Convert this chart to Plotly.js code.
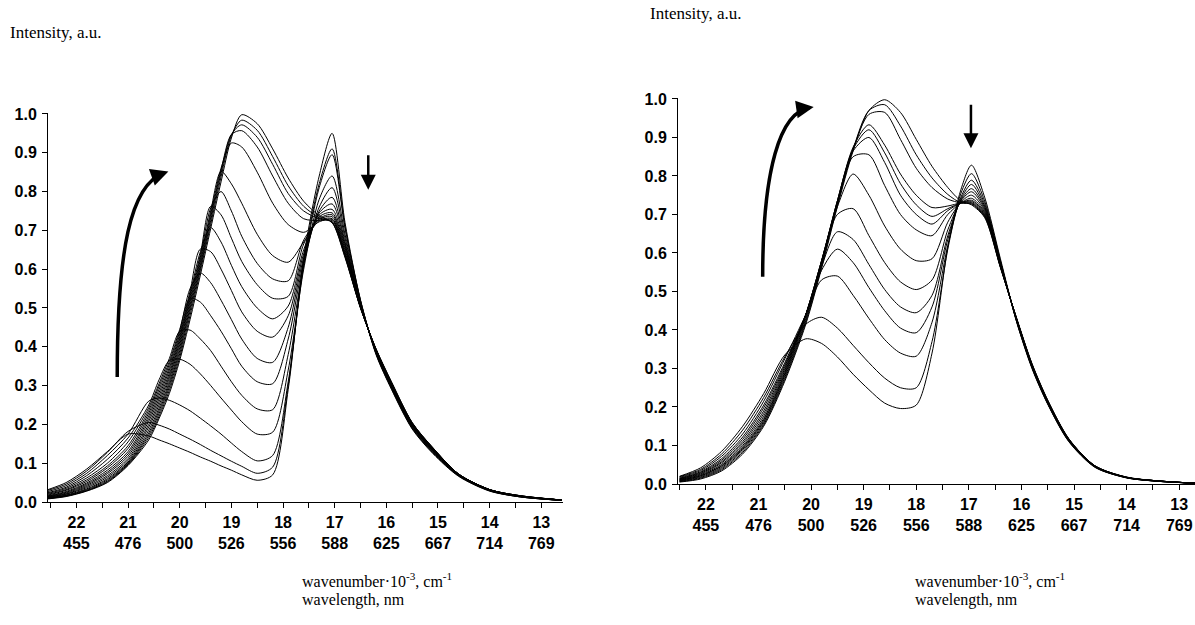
<!DOCTYPE html>
<html>
<head>
<meta charset="utf-8">
<script src="https://cdn.plot.ly/plotly-3.0.1.min.js"></script>
<style>html,body{margin:0;padding:0;background:#fff;}#chart{width:1195px;height:625px;}</style>
</head>
<body>
<div id="chart"></div>
<script>
// ---------- tick labels ----------
const tickWavenumber = [22, 21, 20, 19, 18, 17, 16, 15, 14, 13];
const tickWavelength = [455, 476, 500, 526, 556, 588, 625, 667, 714, 769];
const yTicks = [0.0, 0.1, 0.2, 0.3, 0.4, 0.5, 0.6, 0.7, 0.8, 0.9, 1.0];

// ---------- left panel: wavenumber grid (10^3 cm-1) ----------
const wnLeft = [22.55, 22.2, 21.8, 21.4, 21.0, 20.6, 20.4, 20.2, 20.0, 19.8, 19.6, 19.4, 19.2, 19.0, 18.8, 18.5, 18.2, 17.9, 17.6, 17.3, 17.05, 16.8, 16.5, 16.2, 15.9, 15.5, 15.1, 14.6, 14.0, 13.4, 12.6];
const L01 = [0.032,0.050,0.085,0.130,0.175,0.170,0.160,0.150,0.139,0.128,0.116,0.105,0.093,0.082,0.070,0.056,0.070,0.290,0.630,0.840,0.950,0.720,0.520,0.380,0.290,0.188,0.125,0.066,0.028,0.013,0.004];
const L02 = [0.030,0.046,0.080,0.128,0.182,0.205,0.198,0.188,0.175,0.162,0.148,0.133,0.119,0.105,0.092,0.074,0.090,0.300,0.620,0.820,0.910,0.710,0.520,0.382,0.292,0.190,0.127,0.067,0.029,0.013,0.004];
const L03 = [0.027,0.042,0.074,0.120,0.175,0.260,0.268,0.262,0.250,0.235,0.216,0.196,0.175,0.152,0.130,0.106,0.120,0.310,0.610,0.810,0.895,0.705,0.518,0.383,0.293,0.191,0.128,0.068,0.029,0.013,0.004];
const L04 = [0.024,0.038,0.068,0.110,0.165,0.250,0.315,0.365,0.368,0.355,0.330,0.300,0.268,0.237,0.207,0.175,0.180,0.340,0.600,0.780,0.840,0.690,0.515,0.385,0.295,0.193,0.130,0.068,0.030,0.014,0.004];
const L05 = [0.022,0.035,0.062,0.100,0.155,0.243,0.305,0.370,0.440,0.443,0.420,0.390,0.350,0.310,0.275,0.240,0.238,0.380,0.610,0.760,0.810,0.680,0.512,0.386,0.297,0.195,0.131,0.069,0.030,0.014,0.004];
const L06 = [0.020,0.032,0.057,0.093,0.145,0.236,0.298,0.362,0.445,0.525,0.515,0.480,0.440,0.395,0.350,0.310,0.305,0.420,0.620,0.750,0.785,0.670,0.510,0.387,0.298,0.196,0.132,0.069,0.030,0.014,0.004];
const L07 = [0.018,0.030,0.053,0.088,0.138,0.229,0.290,0.355,0.440,0.550,0.590,0.565,0.520,0.470,0.420,0.370,0.360,0.450,0.630,0.745,0.768,0.665,0.508,0.388,0.299,0.197,0.133,0.070,0.031,0.015,0.005];
const L08 = [0.016,0.027,0.049,0.082,0.130,0.222,0.282,0.347,0.433,0.543,0.652,0.645,0.600,0.545,0.490,0.440,0.425,0.480,0.640,0.740,0.754,0.660,0.507,0.389,0.300,0.198,0.134,0.070,0.031,0.015,0.005];
const L09 = [0.015,0.025,0.046,0.077,0.124,0.215,0.274,0.340,0.426,0.536,0.645,0.707,0.670,0.610,0.555,0.500,0.472,0.505,0.650,0.735,0.745,0.655,0.506,0.390,0.301,0.199,0.135,0.070,0.031,0.015,0.005];
const L10 = [0.014,0.023,0.043,0.073,0.118,0.208,0.266,0.332,0.420,0.530,0.638,0.762,0.740,0.680,0.620,0.560,0.525,0.530,0.665,0.730,0.740,0.650,0.505,0.390,0.302,0.200,0.136,0.071,0.031,0.015,0.005];
const L11 = [0.013,0.021,0.040,0.068,0.112,0.200,0.258,0.325,0.413,0.523,0.631,0.758,0.800,0.750,0.685,0.615,0.575,0.570,0.675,0.728,0.735,0.645,0.504,0.391,0.303,0.200,0.137,0.071,0.031,0.015,0.005];
const L12 = [0.012,0.020,0.037,0.064,0.107,0.193,0.250,0.318,0.406,0.516,0.624,0.750,0.852,0.820,0.770,0.690,0.635,0.618,0.670,0.725,0.730,0.640,0.503,0.392,0.304,0.201,0.137,0.071,0.032,0.015,0.005];
const L13 = [0.011,0.018,0.034,0.060,0.103,0.185,0.242,0.310,0.398,0.508,0.617,0.742,0.860,0.925,0.915,0.850,0.770,0.715,0.695,0.722,0.728,0.638,0.502,0.393,0.305,0.202,0.138,0.071,0.032,0.015,0.005];
const L14 = [0.010,0.017,0.032,0.057,0.100,0.178,0.235,0.303,0.390,0.500,0.610,0.734,0.855,0.947,0.957,0.915,0.840,0.770,0.730,0.725,0.725,0.636,0.501,0.393,0.306,0.203,0.139,0.072,0.032,0.016,0.005];
const L15 = [0.009,0.016,0.030,0.054,0.098,0.172,0.228,0.296,0.382,0.492,0.603,0.726,0.848,0.947,0.972,0.940,0.870,0.795,0.750,0.730,0.722,0.634,0.500,0.394,0.307,0.204,0.139,0.072,0.032,0.016,0.005];
const L16 = [0.009,0.015,0.029,0.052,0.096,0.166,0.221,0.288,0.373,0.481,0.596,0.716,0.838,0.944,0.984,0.958,0.890,0.815,0.762,0.733,0.720,0.632,0.500,0.394,0.308,0.204,0.140,0.072,0.032,0.016,0.005];
const L17 = [0.008,0.014,0.028,0.050,0.094,0.160,0.215,0.280,0.365,0.470,0.585,0.705,0.825,0.938,0.998,0.975,0.910,0.835,0.775,0.738,0.720,0.630,0.500,0.395,0.310,0.205,0.140,0.072,0.032,0.016,0.005];

// ---------- right panel: wavenumber grid (10^3 cm-1) ----------
const wnRight = [22.5, 22.1, 21.7, 21.3, 20.9, 20.5, 20.1, 19.8, 19.5, 19.2, 18.9, 18.6, 18.3, 18.0, 17.7, 17.4, 17.15, 16.95, 16.7, 16.4, 16.1, 15.8, 15.5, 15.1, 14.6, 14.0, 13.4, 12.7];
const R01 = [0.020,0.042,0.085,0.150,0.235,0.335,0.377,0.365,0.330,0.285,0.245,0.210,0.196,0.205,0.340,0.615,0.765,0.828,0.745,0.585,0.425,0.300,0.207,0.110,0.043,0.016,0.007,0.002];
const R02 = [0.019,0.038,0.078,0.140,0.225,0.330,0.415,0.433,0.405,0.360,0.315,0.275,0.250,0.250,0.370,0.610,0.755,0.806,0.735,0.580,0.425,0.302,0.208,0.111,0.044,0.016,0.007,0.002];
const R03 = [0.017,0.035,0.072,0.130,0.215,0.325,0.440,0.530,0.540,0.490,0.430,0.375,0.340,0.332,0.420,0.620,0.745,0.789,0.728,0.578,0.427,0.303,0.209,0.112,0.044,0.016,0.007,0.002];
const R04 = [0.015,0.032,0.066,0.122,0.205,0.315,0.440,0.555,0.610,0.575,0.510,0.450,0.405,0.393,0.460,0.635,0.740,0.778,0.722,0.576,0.428,0.304,0.210,0.113,0.045,0.017,0.007,0.002];
const R05 = [0.014,0.030,0.062,0.116,0.198,0.310,0.440,0.565,0.655,0.635,0.570,0.505,0.460,0.445,0.490,0.645,0.737,0.767,0.718,0.574,0.429,0.305,0.211,0.113,0.045,0.017,0.007,0.002];
const R06 = [0.013,0.028,0.058,0.110,0.190,0.305,0.440,0.575,0.700,0.715,0.645,0.575,0.525,0.505,0.530,0.660,0.735,0.759,0.714,0.572,0.430,0.306,0.212,0.114,0.046,0.017,0.008,0.002];
const R07 = [0.012,0.026,0.055,0.105,0.183,0.300,0.440,0.580,0.720,0.805,0.750,0.670,0.610,0.580,0.585,0.680,0.732,0.750,0.710,0.570,0.430,0.307,0.213,0.114,0.046,0.017,0.008,0.002];
const R08 = [0.011,0.024,0.051,0.100,0.176,0.295,0.440,0.580,0.730,0.850,0.855,0.775,0.700,0.660,0.645,0.700,0.730,0.742,0.706,0.568,0.431,0.308,0.214,0.115,0.046,0.017,0.008,0.002];
const R09 = [0.010,0.022,0.048,0.096,0.170,0.290,0.440,0.580,0.735,0.865,0.900,0.835,0.750,0.700,0.675,0.710,0.730,0.737,0.703,0.567,0.432,0.309,0.214,0.115,0.046,0.017,0.008,0.002];
const R10 = [0.009,0.021,0.046,0.093,0.166,0.286,0.435,0.578,0.735,0.870,0.920,0.860,0.780,0.725,0.695,0.715,0.730,0.734,0.700,0.566,0.432,0.309,0.215,0.116,0.046,0.017,0.008,0.002];
const R11 = [0.008,0.019,0.043,0.090,0.162,0.282,0.430,0.575,0.735,0.875,0.933,0.880,0.805,0.750,0.718,0.722,0.730,0.731,0.698,0.565,0.433,0.310,0.215,0.116,0.047,0.017,0.008,0.002];
const R12 = [0.007,0.017,0.040,0.086,0.158,0.277,0.425,0.570,0.730,0.870,0.960,0.965,0.895,0.820,0.770,0.740,0.730,0.729,0.696,0.564,0.433,0.311,0.216,0.117,0.047,0.017,0.008,0.002];
const R13 = [0.006,0.015,0.037,0.082,0.154,0.272,0.420,0.565,0.725,0.870,0.970,0.985,0.930,0.855,0.795,0.752,0.730,0.727,0.694,0.563,0.434,0.312,0.217,0.117,0.047,0.018,0.008,0.002];
const R14 = [0.005,0.013,0.034,0.078,0.150,0.267,0.415,0.560,0.720,0.865,0.970,0.998,0.965,0.895,0.825,0.770,0.735,0.725,0.692,0.562,0.434,0.313,0.218,0.118,0.047,0.018,0.008,0.002];

const leftCurves = [L01, L02, L03, L04, L05, L06, L07, L08, L09, L10, L11, L12, L13, L14, L15, L16, L17];
const rightCurves = [R01, R02, R03, R04, R05, R06, R07, R08, R09, R10, R11, R12, R13, R14];

// ---------- build ----------
const tickVals = [];
const tickText = [];
tickWavenumber.forEach((k, i) => {
  tickVals.push(k + 0.5); tickText.push('');
  tickVals.push(k); tickText.push(k + '<br>' + tickWavelength[i]);
});

const lineStyle = {color: '#000', width: 1, shape: 'spline', smoothing: 0.8};
const traces = [];
leftCurves.forEach(c => traces.push({type: 'scatter', mode: 'lines', x: wnLeft, y: c, xaxis: 'x', yaxis: 'y', line: lineStyle, hoverinfo: 'skip', showlegend: false}));
rightCurves.forEach(c => traces.push({type: 'scatter', mode: 'lines', x: wnRight, y: c, xaxis: 'x2', yaxis: 'y2', line: lineStyle, hoverinfo: 'skip', showlegend: false}));

const tickFont = {family: 'Liberation Sans, Arial, sans-serif', size: 16, color: '#000', weight: 700};
function xAx(domain, range, anchor) {
  return {domain: domain, range: range, anchor: anchor, showline: true, linecolor: '#000', linewidth: 1,
    ticks: 'outside', ticklen: 5, tickwidth: 1, tickcolor: '#000', tickmode: 'array', tickvals: tickVals, ticktext: tickText,
    tickfont: tickFont, ticklabelstandoff: 1, showgrid: false, zeroline: false, fixedrange: true};
}
function yAx(domain, anchor) {
  return {domain: domain, range: [0, 1.003], anchor: anchor, showline: true, linecolor: '#000', linewidth: 1,
    ticks: 'outside', ticklen: 5, tickwidth: 1, tickcolor: '#000', tickmode: 'array', tickvals: yTicks,
    ticktext: yTicks.map(v => v.toFixed(1)), tickfont: tickFont, ticklabelstandoff: 2, showgrid: false, zeroline: false, fixedrange: true};
}

const serif = {family: 'Liberation Serif, Times New Roman, serif', size: 16, color: '#000'};
const serifTitle = {family: 'Liberation Serif, Times New Roman, serif', size: 17, color: '#000'};
const W = 1195, H = 625;
const px = v => v / W, py = v => 1 - v / H;

const layout = {
  width: W, height: H, margin: {l: 0, r: 0, t: 0, b: 0},
  paper_bgcolor: '#fff', plot_bgcolor: '#fff', showlegend: false,
  xaxis: xAx([px(48), px(563)], [22.55, 12.58], 'y'),
  yaxis: yAx([1 - 502 / H, 1 - 112.8 / H], 'x'),
  xaxis2: xAx([px(678), 1], [22.53, 12.7], 'y2'),
  yaxis2: yAx([1 - 484 / H, 1 - 97.8 / H], 'x2'),
  shapes: [
    {type: 'path', xref: 'x', yref: 'y', path: 'M 21.21,0.322 C 21.21,0.649 20.96,0.817 20.30,0.849', line: {color: '#000', width: 3.5}},
    {type: 'path', xref: 'x2', yref: 'y2', path: 'M 20.92,0.538 C 20.92,0.816 20.59,0.966 20.03,0.977', line: {color: '#000', width: 3.5}}
  ],
  annotations: [
    {xref: 'x', yref: 'y', x: 20.22, y: 0.852, ax: -14, ay: 5, showarrow: true, arrowhead: 2, arrowsize: 1, arrowwidth: 3.5, arrowcolor: '#000', text: ''},
    {xref: 'x', yref: 'y', x: 16.35, y: 0.805, ax: 0, ay: -36, showarrow: true, arrowhead: 2, arrowsize: 1.2, arrowwidth: 2.5, arrowcolor: '#000', text: ''},
    {xref: 'x2', yref: 'y2', x: 19.95, y: 0.979, ax: -14, ay: 2, showarrow: true, arrowhead: 2, arrowsize: 1, arrowwidth: 3.5, arrowcolor: '#000', text: ''},
    {xref: 'x2', yref: 'y2', x: 16.96, y: 0.872, ax: 0, ay: -45, showarrow: true, arrowhead: 2, arrowsize: 1.2, arrowwidth: 2.5, arrowcolor: '#000', text: ''},
    {xref: 'paper', yref: 'paper', x: px(8), y: py(33), xanchor: 'left', yanchor: 'middle', showarrow: false, text: 'Intensity, a.u.', font: serifTitle},
    {xref: 'paper', yref: 'paper', x: px(648), y: py(13), xanchor: 'left', yanchor: 'middle', showarrow: false, text: 'Intensity, a.u.', font: serifTitle},
    {xref: 'paper', yref: 'paper', x: px(300), y: py(580), xanchor: 'left', yanchor: 'middle', showarrow: false, text: 'wavenumber·10<sup>-3</sup>, cm<sup>-1</sup>', font: serif},
    {xref: 'paper', yref: 'paper', x: px(300), y: py(600), xanchor: 'left', yanchor: 'middle', showarrow: false, text: 'wavelength, nm', font: serif},
    {xref: 'paper', yref: 'paper', x: px(913), y: py(580), xanchor: 'left', yanchor: 'middle', showarrow: false, text: 'wavenumber·10<sup>-3</sup>, cm<sup>-1</sup>', font: serif},
    {xref: 'paper', yref: 'paper', x: px(913), y: py(600), xanchor: 'left', yanchor: 'middle', showarrow: false, text: 'wavelength, nm', font: serif}
  ]
};

Plotly.newPlot('chart', traces, layout, {staticPlot: true, displayModeBar: false});
</script>
</body>
</html>
